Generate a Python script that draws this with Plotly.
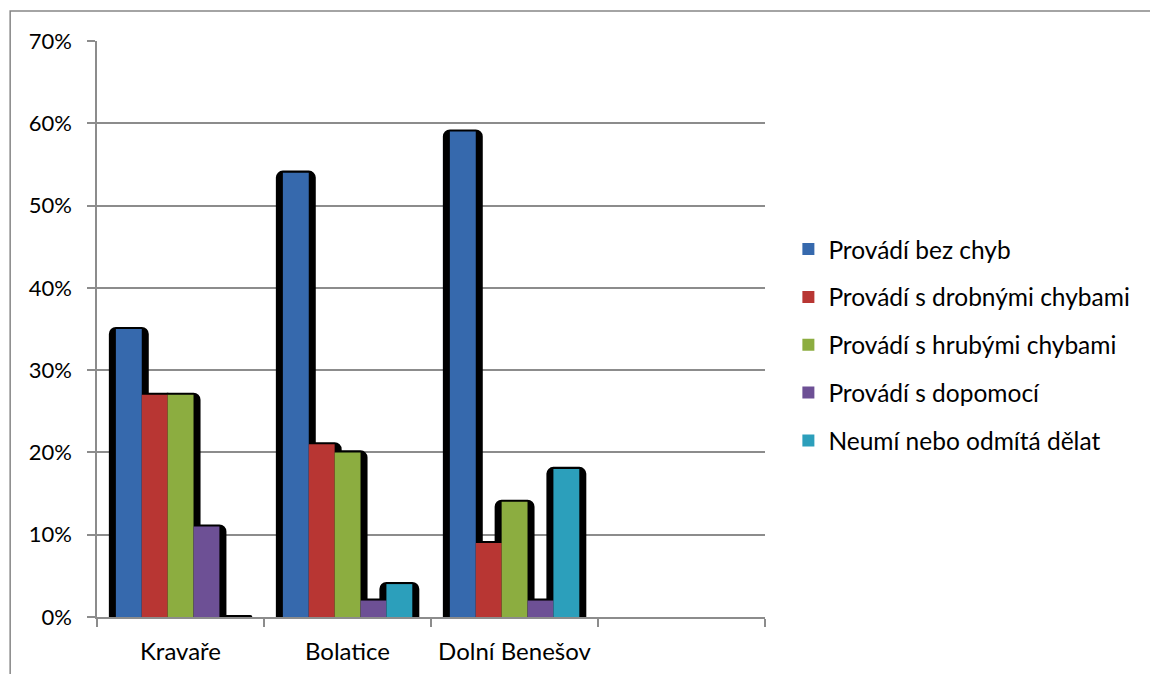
import plotly.graph_objects as go

# Results per municipality (percent of pupils)
categories = ["Kravaře", "Bolatice", "Dolní Benešov"]
series_names = [
    "Provádí bez chyb",
    "Provádí s drobnými chybami",
    "Provádí s hrubými chybami",
    "Provádí s dopomocí",
    "Neumí nebo odmítá dělat",
]
bez_chyb = [35, 54, 59]
drobne_chyby = [27, 21, 9]
hrube_chyby = [27, 20, 14]
dopomoc = [11, 2, 2]
neumi = [0, 4, 18]
y_ticks = [0, 10, 20, 30, 40, 50, 60, 70]
y_tick_labels = [f"{v}%" for v in y_ticks]

values = [bez_chyb, drobne_chyby, hrube_chyby, dopomoc, neumi]
colors = ["#3669ad", "#b83633", "#8cad40", "#6d5095", "#2c9fbb"]

FONT = "Lato"
FSIZE = 24
x_pos = list(range(len(categories)))
bar_w = 0.155
group_left = -0.387
shadow_pad = 0.042

fig = go.Figure()

# dark drop-shadow behind every bar (drawn first)
for i, vals in enumerate(values):
    fig.add_trace(go.Bar(
        x=x_pos, y=[v + 0.25 for v in vals],
        width=bar_w + 2 * shadow_pad,
        offset=group_left + i * bar_w - shadow_pad,
        marker=dict(color="#000000", line=dict(width=0), cornerradius=7),
        showlegend=False, hoverinfo="skip",
    ))

for i, (name, vals) in enumerate(zip(series_names, values)):
    fig.add_trace(go.Bar(
        x=x_pos, y=vals, name=name,
        width=bar_w, offset=group_left + i * bar_w,
        marker=dict(color=colors[i], line=dict(width=0)),
        legendgroup=name,
    ))

grid_col = "#8c8c8c"
fig.update_layout(
    width=1150, height=674,
    barmode="overlay",
    paper_bgcolor="white", plot_bgcolor="white",
    margin=dict(l=97, r=385, t=41, b=57),
    font=dict(family=FONT, size=FSIZE, color="#000000"),
    xaxis=dict(
        range=[-0.5, 3.5], automargin=False,
        tickvals=x_pos, ticktext=categories, ticks="",
        showgrid=False, zeroline=False,
        showline=True, linecolor=grid_col, linewidth=1.5,
        minor=dict(tickvals=[-0.5, 0.5, 1.5, 2.5, 3.5], ticks="outside",
                   ticklen=8, tickcolor=grid_col, tickwidth=1.5, showgrid=False),
        ticklabelstandoff=12,
        tickfont=dict(family=FONT, size=FSIZE),
    ),
    yaxis=dict(
        range=[0, 70], automargin=False,
        tickvals=y_ticks, ticktext=y_tick_labels,
        showgrid=True, gridcolor=grid_col, gridwidth=1.5,
        zeroline=False,
        showline=True, linecolor=grid_col, linewidth=1.5,
        ticks="outside", ticklen=8, tickcolor=grid_col, tickwidth=1.5,
        ticklabelstandoff=11,
        tickfont=dict(family=FONT, size=22),
    ),
    legend=dict(
        x=1.035, xanchor="left", y=0.472, yanchor="middle",
        traceorder="grouped", tracegroupgap=13,
        font=dict(family=FONT, size=24.5),
        itemwidth=30,
    ),
    shapes=[dict(
        type="rect", xref="paper", yref="paper",
        x0=-0.130, x1=1.65, y0=-0.12, y1=1.052,
        line=dict(color="#868686", width=1.5), fillcolor="rgba(0,0,0,0)",
        layer="below",
    )],
)

fig.write_html("out.html")
